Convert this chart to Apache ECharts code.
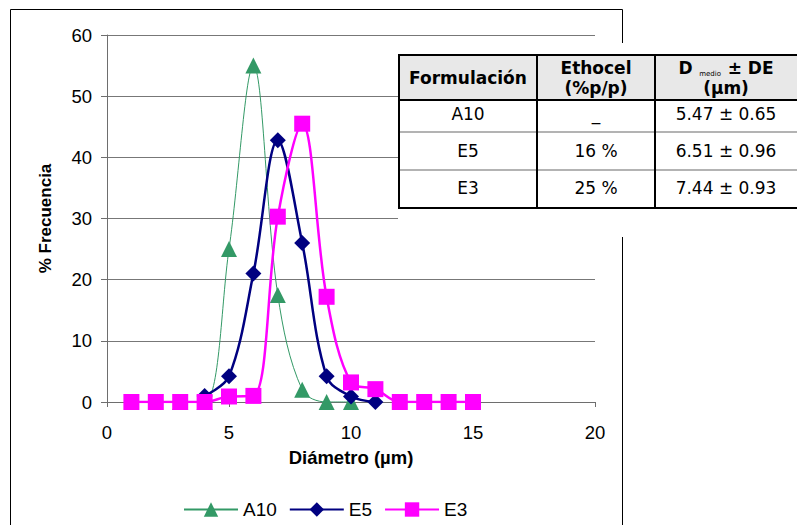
<!DOCTYPE html>
<html>
<head>
<meta charset="utf-8">
<script src="https://cdn.jsdelivr.net/npm/echarts@6/dist/echarts.min.js"></script>
<style>
html,body{margin:0;padding:0;background:#fff;}
#chart{width:797px;height:525px;}
</style>
</head>
<body>
<div id="chart"></div>
<script>
// Particle size distributions (diameter in µm vs. % frequency)
const diamA10 = [3, 4, 5, 6, 7, 8, 9, 10];
const freqA10 = [0, 0, 25, 55, 17.5, 2, 0, 0];

const diamE5 = [4, 5, 6, 7, 8, 9, 10, 11];
const freqE5 = [1, 4.2, 21, 42.8, 26, 4.2, 0.9, 0];

const diamE3 = [1, 2, 3, 4, 5, 6, 7, 8, 9, 10, 11, 12, 13, 14, 15];
const freqE3 = [0, 0, 0, 0, 0.9, 1, 30.3, 45.5, 17.2, 3.2, 2.1, 0, 0, 0, 0];

const xTicks = [0, 5, 10, 15, 20];
const yTicks = [0, 10, 20, 30, 40, 50, 60];

// Summary table
const tableHeader = ['Formulación', 'Ethocel\n(%p/p)', 'D'];
const tableRows = [
  ['A10', '_', '5.47 ± 0.65'],
  ['E5', '16 %', '6.51 ± 0.96'],
  ['E3', '25 %', '7.44 ± 0.93']
];

const zip = (xs, ys) => xs.map((x, i) => [x, ys[i]]);

const chart = echarts.init(document.getElementById('chart'), null, { renderer: 'svg' });

const font = 'Arial, "Liberation Sans", sans-serif';
const tFont = '"DejaVu Sans", Verdana, sans-serif';

// table geometry
const tx0 = 399, tx1 = 537, tx2 = 655, tx3 = 810;
const ty0 = 55, ty1 = 100, ty2 = 132, ty3 = 170, ty4 = 208;
const colC = [(tx0 + tx1) / 2, (tx1 + tx2) / 2, (tx2 + 797) / 2];

const tableGraphics = [
  // white backdrop behind the table
  { type: 'rect', shape: { x: 398, y: 43, width: 400, height: 194 }, style: { fill: '#fff' }, z: 100 },
  // header fill
  { type: 'rect', shape: { x: tx0, y: ty0, width: tx3 - tx0, height: ty1 - ty0 }, style: { fill: '#e8e8e8' }, z: 101 },
  // row separators
  { type: 'line', shape: { x1: tx0, y1: ty2, x2: tx3, y2: ty2 }, style: { stroke: '#9a9a9a', lineWidth: 1.5 }, z: 102 },
  { type: 'line', shape: { x1: tx0, y1: ty3, x2: tx3, y2: ty3 }, style: { stroke: '#9a9a9a', lineWidth: 1.5 }, z: 102 },
  { type: 'line', shape: { x1: tx0, y1: ty1, x2: tx3, y2: ty1 }, style: { stroke: '#000', lineWidth: 2 }, z: 103 },
  // column dividers
  { type: 'line', shape: { x1: tx1, y1: ty0, x2: tx1, y2: ty4 }, style: { stroke: '#000', lineWidth: 2 }, z: 103 },
  { type: 'line', shape: { x1: tx2, y1: ty0, x2: tx2, y2: ty4 }, style: { stroke: '#000', lineWidth: 2 }, z: 103 },
  // outer border
  { type: 'rect', shape: { x: tx0, y: ty0, width: tx3 - tx0, height: ty4 - ty0 }, style: { fill: 'none', stroke: '#000', lineWidth: 2 }, z: 104 },
  // header texts
  { type: 'text', x: colC[0], y: 78, z: 105,
    style: { text: tableHeader[0], font: 'bold 17px ' + tFont, fill: '#000', align: 'center', verticalAlign: 'middle' } },
  { type: 'text', x: colC[1], y: 78, z: 105,
    style: { text: tableHeader[1], font: 'bold 17px ' + tFont, fill: '#000', align: 'center', verticalAlign: 'middle', lineHeight: 20 } },
  { type: 'text', x: colC[2], y: 68, z: 105,
    style: { text: '{b|' + tableHeader[2] + '}  {s|medio}  {b|± DE}', align: 'center', verticalAlign: 'middle',
      rich: { b: { font: 'bold 17px ' + tFont, fill: '#000' }, s: { font: '7px ' + tFont, fill: '#000', verticalAlign: 'bottom', padding: [11, 0, 0, 0] } } } },
  { type: 'text', x: colC[2], y: 88, z: 105,
    style: { text: '(µm)', font: 'bold 17px ' + tFont, fill: '#000', align: 'center', verticalAlign: 'middle' } }
];
const rowTextY = [114, 151, 188];
tableRows.forEach((row, r) => {
  row.forEach((cell, c) => {
    tableGraphics.push({ type: 'text', x: colC[c], y: rowTextY[r], z: 105,
      style: { text: cell, font: '17px ' + tFont, fill: '#000', align: 'center', verticalAlign: 'middle' } });
  });
});

const option = {
  backgroundColor: '#fff',
  animation: false,
  grid: { left: 107, right: 202, top: 35, bottom: 123, containLabel: false },
  xAxis: {
    type: 'value', min: xTicks[0], max: xTicks[xTicks.length - 1], interval: 5,
    name: 'Diámetro (µm)', nameLocation: 'middle', nameGap: 46,
    nameTextStyle: { fontFamily: font, fontWeight: 'bold', fontSize: 18.5, color: '#000' },
    axisLine: { show: true, onZero: false, lineStyle: { color: '#6e6e6e', width: 1 } },
    axisTick: { show: true, inside: false, length: 5, lineStyle: { color: '#6e6e6e' } },
    axisLabel: { fontFamily: font, fontSize: 18.5, color: '#000', margin: 21 },
    splitLine: { show: false }
  },
  yAxis: {
    type: 'value', min: yTicks[0], max: yTicks[yTicks.length - 1], interval: 10,
    name: '% Frecuencia', nameLocation: 'middle', nameGap: 53,
    nameTextStyle: { fontFamily: font, fontWeight: 'bold', fontSize: 17, color: '#000' },
    axisLine: { show: true, lineStyle: { color: '#6e6e6e', width: 1 } },
    axisTick: { show: true, inside: false, length: 6, lineStyle: { color: '#6e6e6e' } },
    axisLabel: { fontFamily: font, fontSize: 18.5, color: '#000', margin: 15 },
    splitLine: { show: true, lineStyle: { color: '#777', width: 1 } }
  },
  legend: {
    top: 495, left: 178,
    itemWidth: 54, itemHeight: 18, itemGap: 12,
    textStyle: { fontFamily: font, fontSize: 19, color: '#000' },
    data: ['A10', 'E5', 'E3']
  },
  series: [
    { name: 'A10', type: 'line', data: zip(diamA10, freqA10), smooth: 0.35,
      symbol: 'triangle', symbolSize: 16, color: '#339966',
      lineStyle: { color: '#339966', width: 1 }, itemStyle: { color: '#339966' }, z: 3 },
    { name: 'E5', type: 'line', data: zip(diamE5, freqE5), smooth: 0.35,
      symbol: 'diamond', symbolSize: 16, color: '#000080',
      lineStyle: { color: '#000080', width: 2.5 }, itemStyle: { color: '#000080' }, z: 4 },
    { name: 'E3', type: 'line', data: zip(diamE3, freqE3), smooth: 0.35,
      symbol: 'rect', symbolSize: 16, color: '#ff00ff',
      lineStyle: { color: '#ff00ff', width: 2.5 }, itemStyle: { color: '#ff00ff' }, z: 5 }
  ],
  graphic: [
    // chart frame
    { type: 'rect', shape: { x: 10.5, y: 9.5, width: 612, height: 530 }, style: { fill: 'none', stroke: '#000', lineWidth: 1 }, z: 50 }
  ].concat(tableGraphics)
};

chart.setOption(option);
</script>
</body>
</html>
